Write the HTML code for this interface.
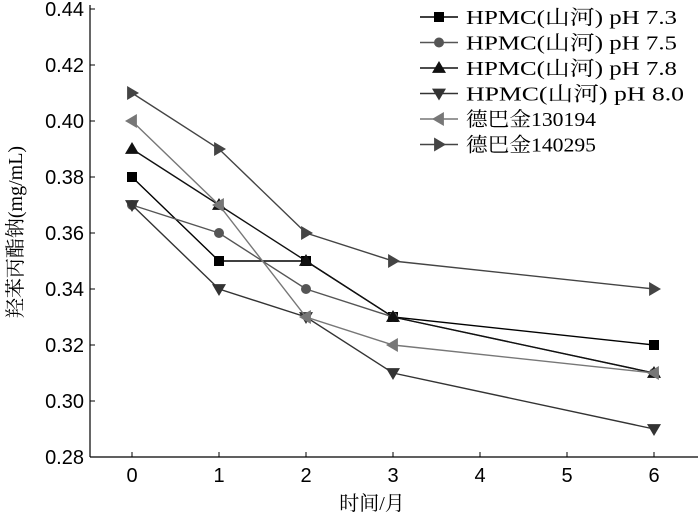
<!DOCTYPE html>
<html><head><meta charset="utf-8"><style>
body{margin:0;background:#fff;}
svg text{font-family:"Liberation Serif","Noto Serif CJK SC",serif;}
svg text.tk{font-family:"Liberation Sans","Noto Sans CJK SC",sans-serif;}
</style></head><body>
<svg id="c" width="700" height="519" xmlns="http://www.w3.org/2000/svg"></svg>
<script>
const xTicks=[0,1,2,3,4,5,6];
const yTicks=[0.28,0.30,0.32,0.34,0.36,0.38,0.40,0.42,0.44];
const xs=[0,1,2,3,6];
const s73=[0.38,0.35,0.35,0.33,0.32];
const s75=[0.37,0.36,0.34,0.33,0.31];
const s78=[0.39,0.37,0.35,0.33,0.31];
const s80=[0.37,0.34,0.33,0.31,0.29];
const d130194=[0.40,0.37,0.33,0.32,0.31];
const d140295=[0.41,0.39,0.36,0.35,0.34];
const names=["HPMC(山河) pH 7.3","HPMC(山河) pH 7.5","HPMC(山河) pH 7.8","HPMC(山河) pH 8.0","德巴金130194","德巴金140295"];
const nameW=[211,211,211,218,130,130];
const series=[s73,s75,s78,s80,d130194,d140295];
const colors=["#000","#555","#111","#333","#777","#444"];
const markers=["square","circle","up","down","left","right"];
const X=v=>132+(v)*87;
const Y=v=>457-(v-0.28)/0.02*56;
const svg=document.getElementById('c');
const NS="http://www.w3.org/2000/svg";
function mk(t,a,p){const e=document.createElementNS(NS,t);for(const k in a)e.setAttribute(k,a[k]);(p||svg).appendChild(e);return e;}
let ax=mk('line',{x1:90,y1:457,x2:698,y2:457,stroke:'#000','stroke-width':1.2});

let ay=mk('line',{x1:90,y1:5,x2:90,y2:457,stroke:'#000','stroke-width':1.2});

xTicks.forEach(v=>{mk('line',{x1:X(v),y1:457,x2:X(v),y2:452,stroke:'#000'});
 const t=mk('text',{x:X(v),y:482,'font-size':20,'text-anchor':'middle','class':'tk'});t.textContent=v;
 });
yTicks.forEach(v=>{mk('line',{x1:90,y1:Y(v),x2:95,y2:Y(v),stroke:'#000'});
 const t=mk('text',{x:84,y:Y(v)+7,'font-size':20,'text-anchor':'end','class':'tk'});t.textContent=v.toFixed(2);
 });
let xt=mk('text',{x:372,y:510,'font-size':20,'text-anchor':'middle'});xt.textContent='时间/月';

let yt=mk('text',{x:0,y:0,'font-size':20,'text-anchor':'middle',transform:'translate(22,232) rotate(-90)'});yt.textContent='羟苯丙酯钠(mg/mL)';

function marker(m,x,y,c,g){const s=7;let e;
 if(m==='square')e=mk('rect',{x:x-5,y:y-5,width:10,height:10,fill:c},g);
 else if(m==='circle')e=mk('circle',{cx:x,cy:y,r:5,fill:c},g);
 else{let p;if(m==='up')p=[[x,y-s],[x-s,y+s*0.7],[x+s,y+s*0.7]];
 else if(m==='down')p=[[x,y+s],[x-s,y-s*0.7],[x+s,y-s*0.7]];
 else if(m==='left')p=[[x-s,y],[x+s*0.7,y-s],[x+s*0.7,y+s]];
 else p=[[x+s,y],[x-s*0.7,y-s],[x-s*0.7,y+s]];
 e=mk('polygon',{points:p.map(q=>q.join(',')).join(' '),fill:c},g);}
 return e;}
series.forEach((d,i)=>{const g=mk('g',{});
 
 const ln=mk('polyline',{points:d.map((v,j)=>X(xs[j])+','+Y(v)).join(' '),fill:'none',stroke:colors[i],'stroke-width':1.4},g);
 
 d.forEach((v,j)=>{const e=marker(markers[i],X(xs[j]),Y(v),colors[i],g);
  });
 const ly=17+i*25.5;const lg=mk('g',{},svg);
 
 mk('line',{x1:420,y1:ly,x2:458,y2:ly,stroke:colors[i],'stroke-width':1.4},lg);
 marker(markers[i],439,ly,colors[i],lg);
 const t=mk('text',{x:466,y:ly+7,'font-size':20,textLength:nameW[i],lengthAdjust:'spacingAndGlyphs'},lg);t.textContent=names[i];
});
</script>
</body></html>
